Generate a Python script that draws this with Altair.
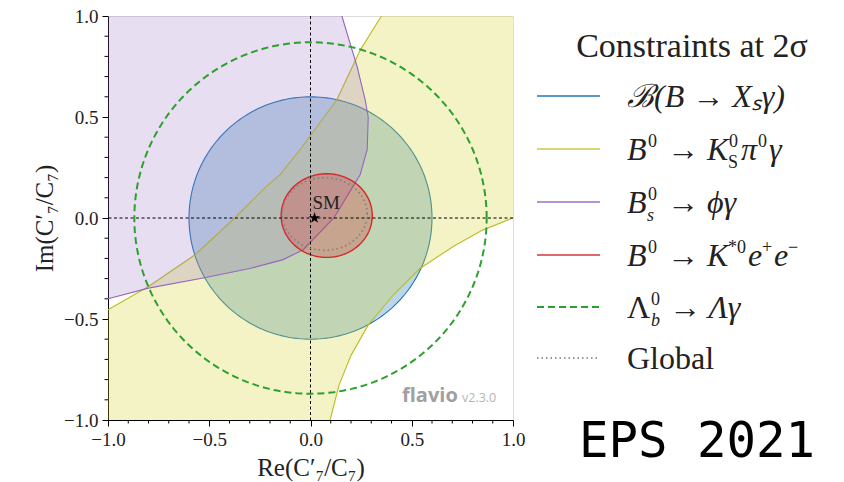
import altair as alt
import numpy as np
import pandas as pd

# ---- plot range -------------------------------------------------------
LO, HI = -1.0, 1.0

# ---- elliptical constraint contours: centre (Re, Im) and radii ---------
bxs_center, bxs_radii = (0.0, 0.0), (0.60, 0.60)        # B(B -> Xs gamma)
lam_center, lam_radii = (0.0, 0.0), (0.87, 0.87)        # Lambda_b -> Lambda gamma
kee_center, kee_radii = (0.08, 0.012), (0.225, 0.207)   # B0 -> K*0 e+ e-
glob_center, glob_radii = (0.07, 0.02), (0.21, 0.18)    # global fit

# ---- B0 -> KS pi0 gamma: boundaries of the allowed band ----------------
ks_upper_re = [-1.0, -0.80, -0.57, -0.374, -0.217, -0.15, -0.052, 0.13, 0.245, 0.35]
ks_upper_im = [-0.454, -0.339, -0.182, 0.0, 0.157, 0.215, 0.338, 0.585, 0.83, 1.0]
ks_lower_re = [1.0, 0.85, 0.707, 0.54, 0.41, 0.286, 0.20, 0.14, 0.097]
ks_lower_im = [0.0, -0.06, -0.14, -0.25, -0.38, -0.528, -0.68, -0.83, -1.0]

# ---- Bs -> phi gamma: boundary of the allowed region -------------------
phi_re = [0.155, 0.18, 0.23, 0.27, 0.285, 0.28, 0.245, 0.18, 0.115, -0.036, -0.135, -0.30, -0.53, -0.80, -1.0]
phi_im = [1.0, 0.916, 0.75, 0.585, 0.50, 0.338, 0.214, 0.107, 0.0, -0.157, -0.206, -0.25, -0.297, -0.347, -0.40]

# ---- Standard Model point ---------------------------------------------
sm_re, sm_im = [0.02], [0.0]

# ---- axis ticks --------------------------------------------------------
major_ticks = [-1.0, -0.5, 0.0, 0.5, 1.0]
minor_ticks = [-0.9, -0.8, -0.7, -0.6, -0.4, -0.3, -0.2, -0.1,
               0.1, 0.2, 0.3, 0.4, 0.6, 0.7, 0.8, 0.9]

# ---- legend ------------------------------------------------------------
legend_title = "Constraints at 2σ"
# each entry is a run of pieces: (text, horizontal offset, level, italic)
# level: 0 = main line, 1 = superscript, -1 = subscript
legend_entries = [
    [("ℬ(B → Xₛγ)", 0, 0, True)],
    [("B", 0, 0, True), ("0", 21, 1, False), ("→ K", 40, 0, True),
     ("0", 102, 1, False), ("S", 101, -1, False), ("π", 114, 0, True),
     ("0", 131, 1, False), ("γ", 142, 0, True)],
    [("B", 0, 0, True), ("0", 21, 1, False), ("s", 20, -1, True), ("→ ϕγ", 40, 0, True)],
    [("B", 0, 0, True), ("0", 21, 1, False), ("→ K", 40, 0, True),
     ("*0", 101, 1, False), ("e", 121, 0, True), ("+", 135, 1, False),
     ("e", 147, 0, True), ("−", 161, 1, False)],
    [("Λ", 0, 0, False), ("0", 24, 1, False), ("b", 24, -1, True), ("→ Λγ", 42, 0, True)],
    [("Global", 0, 0, False)],
]

BLUE, OLIVE, PURPLE, RED, GREEN, GREY = "#1f77b4", "#bcbd22", "#9467bd", "#d62728", "#2ca02c", "#808080"
OLIVE_FILL = "#d2d22a"
SERIF = "Liberation Serif"
INK = "#222222"

W, H = 405, 404


def ellipse(center, radii, n=241):
    t = np.linspace(0.0, 2.0 * np.pi, n)
    return pd.DataFrame({"re": center[0] + radii[0] * np.cos(t),
                         "im": center[1] + radii[1] * np.sin(t),
                         "i": np.arange(n)})


def path(re, im):
    return pd.DataFrame({"re": re, "im": im, "i": np.arange(len(re))})


def axis(title, pad):
    return alt.Axis(values=major_ticks, format=".1f", title=title,
                    tickSize=6, tickColor="black", tickWidth=1, domainColor="black",
                    labelFont=SERIF, labelFontSize=19, labelColor=INK,
                    labelFlush=False, labelOverlap=False, labelPadding=4,
                    titleFont=SERIF, titleFontSize=25, titleFontWeight="normal",
                    titleColor=INK, titlePadding=pad, grid=False)


xenc = alt.X("re:Q", scale=alt.Scale(domain=[LO, HI], nice=False, zero=False),
             axis=axis("Re(C′₇/C₇)", 6))
yenc = alt.Y("im:Q", scale=alt.Scale(domain=[LO, HI], nice=False, zero=False),
             axis=axis("Im(C′₇/C₇)", 6))


def fill_layer(df, color, opacity):
    return alt.Chart(df).mark_line(fill=color, fillOpacity=opacity, strokeWidth=0,
                                   strokeOpacity=0).encode(x=xenc, y=yenc, order="i:Q")


def edge_layer(df, color, width=1.2, dash=None, opacity=1.0):
    kw = dict(color=color, strokeWidth=width, opacity=opacity)
    if dash:
        kw["strokeDash"] = dash
    return alt.Chart(df).mark_line(**kw).encode(x=xenc, y=yenc, order="i:Q")


def text_at(txt, x, y, size, style="normal", align="left", font=SERIF, **kw):
    return alt.Chart(pd.DataFrame({"t": [txt]})).mark_text(
        font=font, fontSize=size, fontStyle=style, align=align,
        baseline="alphabetic", **({"color": INK} | kw)).encode(
        x=alt.value(x), y=alt.value(y), text="t:N")


# polygons of the two band-like regions, closed along the frame
ks_poly = path(ks_upper_re + [HI] + ks_lower_re + [LO, LO],
               ks_upper_im + [HI] + ks_lower_im + [LO, ks_upper_im[0]])
phi_poly = path(phi_re + [LO, phi_re[0]], phi_im + [HI, phi_im[0]])

bxs = ellipse(bxs_center, bxs_radii)
kee = ellipse(kee_center, kee_radii)
lam = ellipse(lam_center, lam_radii)
glob = ellipse(glob_center, glob_radii)

layers = [
    fill_layer(bxs, BLUE, 0.3), edge_layer(bxs, BLUE, 1.1),
    fill_layer(ks_poly, OLIVE_FILL, 0.27), edge_layer(path(ks_upper_re, ks_upper_im), OLIVE, 1.1),
    edge_layer(path(ks_lower_re, ks_lower_im), OLIVE, 1.1),
    fill_layer(phi_poly, PURPLE, 0.22), edge_layer(path(phi_re, phi_im), PURPLE, 1.1),
    fill_layer(kee, RED, 0.28), edge_layer(kee, RED, 1.4),
]

# dashed cross-hair through the origin
layers.append(alt.Chart(pd.DataFrame({"re": [0.0]})).mark_rule(
    color="black", strokeWidth=1, strokeDash=[3, 2.5]).encode(x=xenc))
layers.append(alt.Chart(pd.DataFrame({"im": [0.0]})).mark_rule(
    color="black", strokeWidth=1, strokeDash=[3, 2.5]).encode(y=yenc))

layers += [
    edge_layer(lam, GREEN, 2.0, [7, 4]),
    edge_layer(glob, GREY, 1.7, [1.5, 3]),
]

# minor ticks on both axes
layers.append(alt.Chart(pd.DataFrame({"re": minor_ticks})).mark_rule(
    color="black", strokeWidth=1).encode(x=xenc, y=alt.value(H), y2=alt.value(H + 3.5)))
layers.append(alt.Chart(pd.DataFrame({"im": minor_ticks})).mark_rule(
    color="black", strokeWidth=1).encode(y=yenc, x=alt.value(0), x2=alt.value(-3.5)))

# SM point
STAR = "M0,-1L0.2245,-0.309L0.951,-0.309L0.363,0.118L0.588,0.809L0,0.382L-0.588,0.809L-0.363,0.118L-0.951,-0.309L-0.2245,-0.309Z"
sm_df = pd.DataFrame({"re": sm_re, "im": sm_im, "t": ["SM"]})
layers.append(alt.Chart(sm_df).mark_point(shape=STAR, filled=True, color="black",
                                          size=140, opacity=1).encode(x=xenc, y=yenc))
layers.append(alt.Chart(sm_df).mark_text(font=SERIF, fontSize=19, align="left",
                                         baseline="alphabetic", dx=-2, dy=-9,
                                         color=INK).encode(x=xenc, y=yenc, text="t:N"))

# watermark
layers.append(text_at("flavio", 294, 386, 20, font="Open Sans", fontWeight="bold", color="#a0a0a0"))
layers.append(text_at("v2.3.0", 354, 386, 12.5, font="Open Sans", color="#b4b4b4"))

# legend
layers.append(text_at(legend_title, 584, 41, 34, align="center"))

row_y = [80, 133, 186, 239, 291, 342]
row_style = [
    dict(color=BLUE, opacity=0.75),
    dict(color=OLIVE, opacity=0.6),
    dict(color=PURPLE, opacity=0.7),
    dict(color=RED, opacity=0.7),
    dict(color=GREEN, opacity=1.0, strokeDash=[7, 4]),
    dict(color=GREY, opacity=0.8, strokeDash=[1.5, 3]),
]
LX = 519
LEVEL_SHIFT = {0: 11, 1: -2, -1: 19}
LEVEL_SIZE = {0: 32, 1: 18, -1: 18}
for k, (pieces, ry, st) in enumerate(zip(legend_entries, row_y, row_style)):
    wdt = 2.2 if k >= 4 else 2.0
    layers.append(alt.Chart(pd.DataFrame({"t": [k]})).mark_rule(strokeWidth=wdt, **st).encode(
        x=alt.value(429), x2=alt.value(492), y=alt.value(ry)))
    for txt, dx, lvl, ital in pieces:
        layers.append(text_at(txt, LX + dx, ry + LEVEL_SHIFT[lvl], LEVEL_SIZE[lvl],
                              "italic" if ital else "normal"))

layers.append(text_at("EPS 2021", 471, 441, 49, font="DejaVu Sans Mono", color="black"))

chart = alt.layer(*layers).properties(
    width=W, height=H,
    autosize=alt.AutoSizeParams(type="none"),
    padding={"left": 108, "top": 16, "right": 331, "bottom": 62},
).configure_view(stroke="black", strokeWidth=1.2).configure(background="white")

chart.save("out.html", embed_options={"renderer": "svg", "actions": False})
